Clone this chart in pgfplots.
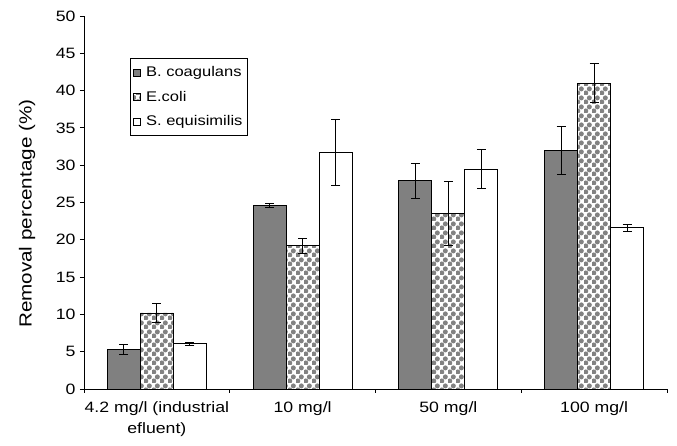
\documentclass[border=0pt]{standalone}
\usepackage{fontspec}
\setmainfont{Liberation Sans}[FakeStretch=1.18]
\usepackage{pgfplots}
\pgfplotsset{compat=1.18}
\usetikzlibrary{patterns}

% staggered gray balls used for the E. coli bars
\pgfdeclarepatternformonly{balls}{\pgfqpoint{0pt}{0pt}}{\pgfqpoint{8pt}{9pt}}{\pgfqpoint{8pt}{9pt}}{%
  \pgfpathcircle{\pgfqpoint{2pt}{2.25pt}}{2.8pt}%
  \pgfpathcircle{\pgfqpoint{6pt}{6.75pt}}{2.8pt}%
  \pgfusepath{fill}%
}

\definecolor{bardark}{RGB}{128,128,128}
\definecolor{ballgray}{RGB}{130,130,130}

\begin{document}
\begin{tikzpicture}
\path[use as bounding box] (-84pt,-57pt) rectangle (593pt,389pt);
\begin{axis}[
  at={(0pt,0pt)}, anchor=south west,
  scale only axis,
  width=583pt, height=373pt,
  ybar,
  bar width=0.2264,
  xmin=-0.5, xmax=3.5,
  ymin=0, ymax=50,
  ytick={0,5,...,50},
  axis x line=bottom, axis y line=left,
  axis line style={-, black, line width=0.8pt},
  tick align=outside,
  major tick length=4pt,
  tick style={black, line width=0.8pt},
  xtick={-0.5,0.5,1.5,2.5,3.5},
  xticklabels={},
  extra x ticks={0,1,2,3},
  extra x tick labels={4.2 mg/l (industrial\\efluent), 10 mg/l, 50 mg/l, 100 mg/l},
  extra x tick style={major tick length=0pt, xticklabel style={align=center, yshift=-9pt}},
  /pgf/number format/assume math mode=true,
  tick label style={font=\fontsize{15}{21}\selectfont},
  yticklabel style={xshift=-1pt},
  ylabel={Removal percentage (\%)},
  every axis y label/.style={at={(rel axis cs:0,0.47)}, xshift=-57pt, rotate=90,
    anchor=center, font=\fontsize{17.5}{20}\selectfont},
  legend style={
    at={(rel axis cs:0.0789,0.887)}, anchor=north west,
    draw=black, line width=0.8pt,
    font=\fontsize{14}{17}\selectfont,
    row sep=9pt, inner xsep=3pt, inner ysep=6pt,
    legend cell align=left,
  },
  every axis plot post/.append style={
    legend image code/.code={%
      \draw[##1, draw=black, line width=0.6pt] (3pt,-3.5pt) rectangle (10pt,3.5pt);
      \path (13pt,0pt);}
  },
  error bars/y dir=both,
  error bars/y explicit,
  error bars/error bar style={black, line width=0.9pt},
  error bars/error mark options={black, rotate=90, mark size=4.5pt, line width=0.9pt},
]
% B. coagulans
\addplot[bar shift=-0.2264, fill=bardark, draw=black, line width=0.8pt]
  coordinates {(0,5.3) +- (0,0.65) (1,24.6) +- (0,0.3) (2,27.9) +- (0,2.3) (3,32.0) +- (0,3.2)};
% E. coli
\addplot[bar shift=0, pattern=balls, pattern color=ballgray, draw=black, line width=0.8pt]
  coordinates {(0,10.2) +- (0,1.3) (1,19.2) +- (0,1.0) (2,23.5) +- (0,4.3) (3,41.0) +- (0,2.6)};
% S. equisimilis
\addplot[bar shift=0.2264, fill=white, draw=black, line width=0.8pt]
  coordinates {(0,6.05) +- (0,0.2) (1,31.7) +- (0,4.4) (2,29.5) +- (0,2.6) (3,21.6) +- (0,0.5)};
\legend{B. coagulans, E.coli, S. equisimilis}
\end{axis}
\end{tikzpicture}
\end{document}
